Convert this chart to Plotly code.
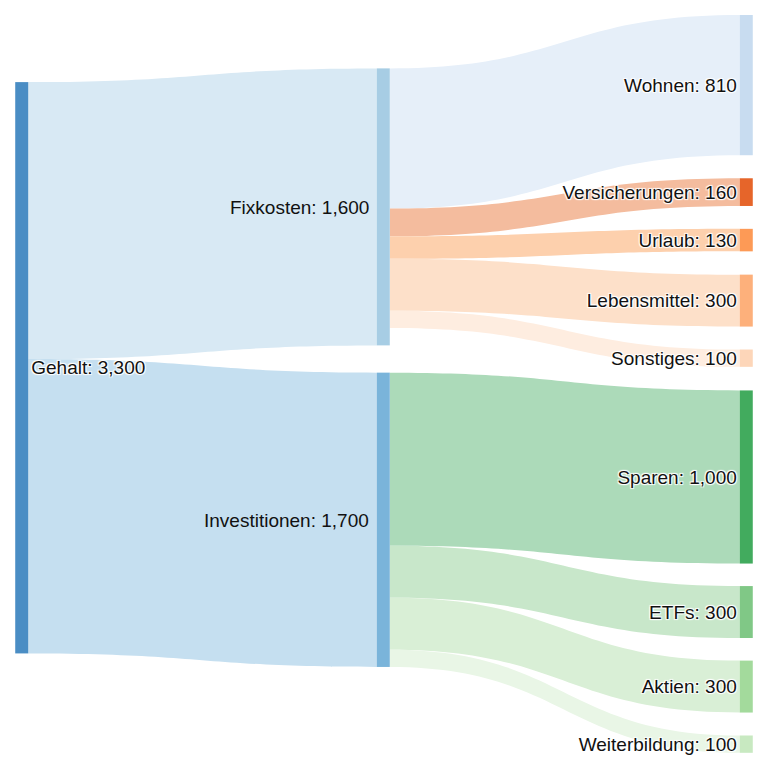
import plotly.graph_objects as go

NAMES = [
    "Gehalt", "Fixkosten", "Investitionen",
    "Wohnen", "Versicherungen", "Urlaub", "Lebensmittel", "Sonstiges",
    "Sparen", "ETFs", "Aktien", "Weiterbildung",
]
NODE_COLORS = [
    "#4a8dc4", "#a7cde4", "#7ab4da",
    "#c8dcf0", "#e6652a", "#fd9a56", "#fdb07b", "#fdd6b9",
    "#42ab5e", "#80c886", "#a3da9c", "#c8e9c1",
]

SOURCES = [0, 0, 1, 1, 1, 1, 1, 2, 2, 2, 2]
TARGETS = [1, 2, 3, 4, 5, 6, 7, 8, 9, 10, 11]
VALUES = [1600, 1700, 810, 160, 130, 300, 100, 1000, 300, 300, 100]
LINK_COLORS = [
    "#d8e9f4", "#c5dff0",
    "#e6eff9", "#f4bc9e", "#fdd0ad", "#fde0c9", "#feede0",
    "#acdab9", "#c8e7ca", "#d9efd6", "#e9f6e6",
]

# node placement (normalised)
NODE_X = [0.001, 0.499, 0.499, 0.999, 0.999, 0.999, 0.999, 0.999, 0.999, 0.999, 0.999, 0.999]
NODE_Y = [0.478, 0.260, 0.684, 0.095, 0.240, 0.305, 0.387, 0.465, 0.626, 0.809, 0.910, 0.988]
# middle column gets its labels on the left side of the node
LEFT_LABEL_NODES = [1, 2]

W, H = 768, 768
MARGIN = {"l": 13, "r": 29, "t": 7, "b": 23}
FONT = {"family": "Liberation Sans, Arial, sans-serif", "size": 19, "color": "#111111"}

# node value = max(inflow, outflow), like plotly does it
node_values = []
for i in range(len(NAMES)):
    inflow = sum(v for t, v in zip(TARGETS, VALUES) if t == i)
    outflow = sum(v for s, v in zip(SOURCES, VALUES) if s == i)
    node_values.append(max(inflow, outflow))
labels = [f"{n}: {v:,}" for n, v in zip(NAMES, node_values)]
node_labels = ["" if i in LEFT_LABEL_NODES else lab for i, lab in enumerate(labels)]

fig = go.Figure(
    go.Sankey(
        arrangement="fixed",
        node={
            "label": node_labels,
            "customdata": labels,
            "hovertemplate": "%{customdata}<extra></extra>",
            "color": NODE_COLORS,
            "x": NODE_X,
            "y": NODE_Y,
            "pad": 23,
            "thickness": 13,
            "line": {"width": 0},
        },
        link={
            "source": SOURCES,
            "target": TARGETS,
            "value": VALUES,
            "color": LINK_COLORS,
        },
        textfont=FONT,
    )
)

pw = W - MARGIN["l"] - MARGIN["r"]
ph = H - MARGIN["t"] - MARGIN["b"]
for i in LEFT_LABEL_NODES:
    # label sits a few px left of the node, centred on it
    x_px = NODE_X[i] * pw - 12
    y_px = NODE_Y[i] * ph + 1
    fig.add_annotation(
        x=x_px / pw,
        y=1 - y_px / ph,
        xref="paper",
        yref="paper",
        xanchor="right",
        yanchor="middle",
        text=labels[i],
        showarrow=False,
        font=FONT,
    )

fig.update_layout(
    width=W,
    height=H,
    margin=MARGIN,
    paper_bgcolor="white",
)

fig.write_html("out.html")
